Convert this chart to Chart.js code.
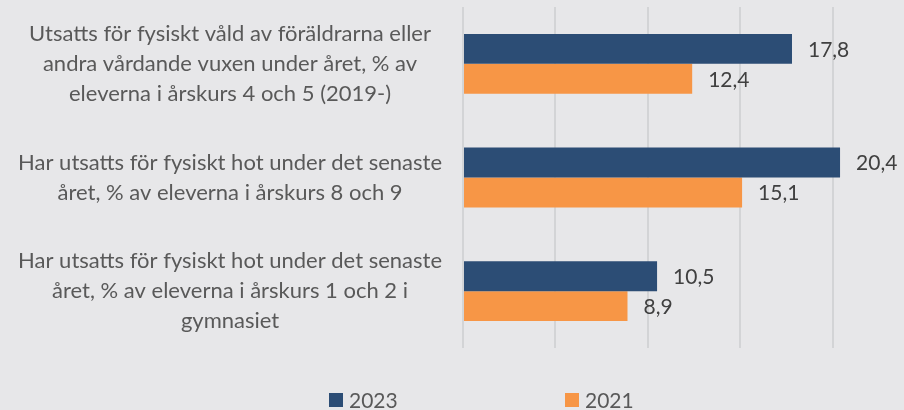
<!DOCTYPE html>
<html>
<head>
<meta charset="utf-8">
<script src="https://cdn.jsdelivr.net/npm/chart.js@4.4.1/dist/chart.umd.min.js"></script>
<style>
  html, body { margin: 0; padding: 0; background: #e7e7e9; }
  #chart { display: block; }
</style>
</head>
<body>
<canvas id="chart" width="904" height="410"></canvas>
<script>
const categories = [
  ["Utsatts för fysiskt våld av föräldrarna eller", "andra vårdande vuxen under året, % av", "eleverna i årskurs 4 och 5 (2019-)"],
  ["Har utsatts för fysiskt hot under det senaste", "året, % av eleverna i årskurs 8 och 9"],
  ["Har utsatts för fysiskt hot under det senaste", "året, % av eleverna i årskurs 1 och 2 i", "gymnasiet"]
];
const years = ["2023", "2021"];
const values2023 = [17.8, 20.4, 10.5];
const values2021 = [12.4, 15.1, 8.9];
const gridValues = [0, 5, 10, 15, 20];

const NAVY = "#2c4d75";
const ORANGE = "#f79646";
const FONT = "Lato";

// numbers at the end of each bar, swedish comma
const valueLabels = {
  id: "valueLabels",
  afterDatasetsDraw(chart) {
    const ctx = chart.ctx;
    ctx.save();
    ctx.font = "21px " + FONT;
    ctx.fillStyle = "#404040";
    ctx.textBaseline = "middle";
    chart.data.datasets.forEach((ds, i) => {
      chart.getDatasetMeta(i).data.forEach((bar, j) => {
        ctx.fillText(ds.data[j].toFixed(1).replace(".", ","), bar.x + 16, bar.y + 1);
      });
    });
    ctx.restore();
  }
};

// legend spread out like the excel one
const bottomLegend = {
  id: "bottomLegend",
  afterDraw(chart) {
    const ctx = chart.ctx;
    const xs = [329, 565];
    ctx.save();
    ctx.font = "21px " + FONT;
    ctx.textBaseline = "middle";
    chart.data.datasets.forEach((ds, i) => {
      ctx.fillStyle = ds.backgroundColor;
      ctx.fillRect(xs[i], 393, 14, 14);
      ctx.fillStyle = "#595959";
      ctx.fillText(ds.label, xs[i] + 20, 401);
    });
    ctx.restore();
  }
};

function drawChart() {
  Chart.defaults.font.family = FONT;

  new Chart(document.getElementById("chart"), {
    type: "bar",
    data: {
      labels: categories,
      datasets: [
        { label: years[0], data: values2023, backgroundColor: NAVY },
        { label: years[1], data: values2021, backgroundColor: ORANGE }
      ]
    },
    options: {
      indexAxis: "y",
      responsive: false,
      animation: false,
      datasets: {
        bar: { barPercentage: 1, categoryPercentage: 0.526 }
      },
      layout: { padding: { top: 7, bottom: 62, left: 0, right: 0 } },
      plugins: {
        legend: { display: false },
        tooltip: { enabled: false }
      },
      scales: {
        x: {
          min: 0,
          max: 23.86,
          afterBuildTicks: axis => { axis.ticks = gridValues.map(v => ({ value: v })); },
          ticks: { display: false },
          grid: { color: "#d3d4d6", lineWidth: 2, drawTicks: false },
          border: { display: false }
        },
        y: {
          afterFit: scale => {
            scale.width = 463;
            // labels may stick out above/below, don't shrink the plot for that
            scale.paddingTop = 0;
            scale.paddingBottom = 0;
          },
          grid: { display: false, drawTicks: false },
          border: { display: false },
          ticks: {
            crossAlign: "center",
            padding: 21,
            color: "#595959",
            font: { family: FONT, size: 22, lineHeight: 1.364 }
          }
        }
      }
    },
    plugins: [valueLabels, bottomLegend]
  });
}

document.fonts.load("20px " + FONT).then(drawChart, drawChart);
</script>
</body>
</html>
